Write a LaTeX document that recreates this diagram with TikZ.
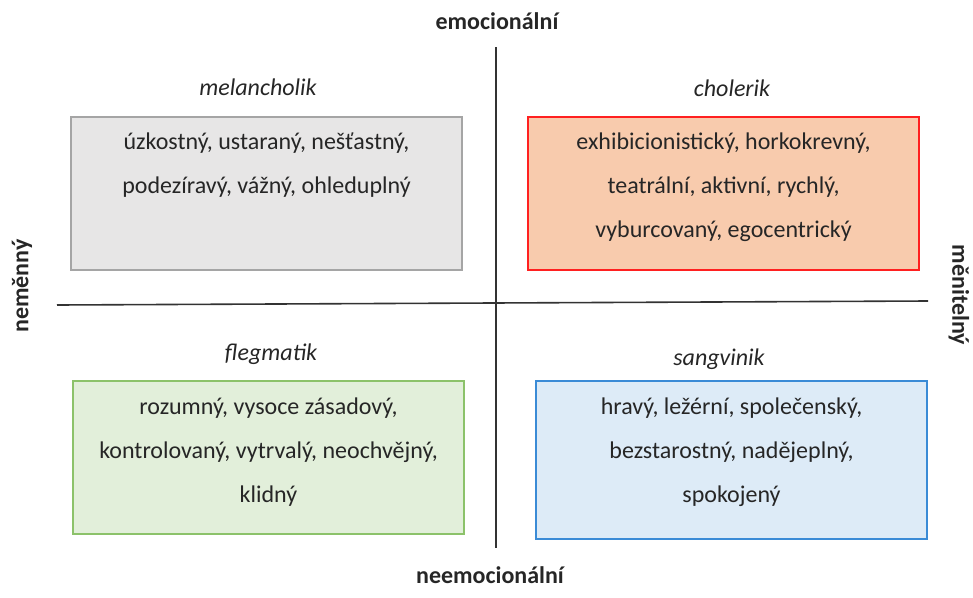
\documentclass[tikz,border=0pt]{standalone}
\usepackage{fontspec}
\setmainfont{Carlito}
\usepackage{xcolor}
\usetikzlibrary{positioning}
\definecolor{melfill}{HTML}{E7E6E6}
\definecolor{meldraw}{HTML}{A5A5A5}
\definecolor{cholfill}{HTML}{F8CBAD}
\definecolor{choldraw}{HTML}{FF2020}
\definecolor{flegfill}{HTML}{E2EFDA}
\definecolor{flegdraw}{HTML}{8CC26A}
\definecolor{sangfill}{HTML}{DDEBF7}
\definecolor{sangdraw}{HTML}{3A8BD6}
\definecolor{textgray}{HTML}{262626}
\tikzset{
    typebox/.style={
        draw,
        rectangle,
        line width=1.3pt,
        minimum width=391pt,
        minimum height=153pt,
        inner sep=0pt
    },
    boxtext/.style={
        align=center,
        inner sep=0pt,
        text=textgray,
        font=\fontsize{24}{44}\selectfont
    },
    typename/.style={
        inner sep=0pt,
        text=textgray,
        font=\fontsize{24}{28}\selectfont\itshape
    },
    axislabel/.style={
        inner sep=0pt,
        text=textgray,
        font=\fontsize{24}{28}\selectfont\bfseries
    },
    axis/.style={
        draw=black!80,
        line width=1.6pt
    }
}

\begin{document}
\begin{tikzpicture}[x=1pt, y=-1pt]
  \useasboundingbox (0,0) rectangle (973,597);

  % Axes
  \coordinate (emtop) at (496,47);
  \coordinate (embot) at (496,548);
  \coordinate (chleft) at (57,305);
  \coordinate (chright) at (928,301);
  \draw[axis] (emtop) -- (embot);
  \draw[axis] (chleft) -- (chright);

  % Axis labels
  \node[axislabel] (emo) at (497,21) {emocionální};
  \node[axislabel] (neemo) at (490,575) {neemocionální};
  \node[axislabel, rotate=90] (nemen) at (22,286) {neměnný};
  \node[axislabel, rotate=-90] (menit) at (959,295) {měnitelný};

  % Melancholik
  \node[typename] (melname) at (258,87) {melancholik};
  \node[typebox, fill=melfill, draw=meldraw] (melbox) at (266.5,193.5) {};
  \node[boxtext, below=16pt of melbox.north] (meltext)
    {úzkostný, ustaraný, nešťastný,\\podezíravý, vážný, ohleduplný};

  % Cholerik
  \node[typename] (cholname) at (732,88) {cholerik};
  \node[typebox, fill=cholfill, draw=choldraw] (cholbox) at (723.5,193.5) {};
  \node[boxtext, below=16pt of cholbox.north] (choltext)
    {exhibicionistický, horkokrevný,\\teatrální, aktivní, rychlý,\\vyburcovaný, egocentrický};

  % Flegmatik
  \node[typename] (flegname) at (271,354) {flegmatik};
  \node[typebox, fill=flegfill, draw=flegdraw] (flegbox) at (268.5,457.5) {};
  \node[boxtext, below=17pt of flegbox.north] (flegtext)
    {rozumný, vysoce zásadový,\\kontrolovaný, vytrvalý, neochvějný,\\klidný};

  % Sangvinik
  \node[typename] (sangname) at (719,359) {sangvinik};
  \node[typebox, fill=sangfill, draw=sangdraw, minimum height=158pt] (sangbox) at (731.5,460) {};
  \node[boxtext, below=17pt of sangbox.north] (sangtext)
    {hravý, ležérní, společenský,\\bezstarostný, nadějeplný,\\spokojený};
\end{tikzpicture}
\end{document}
